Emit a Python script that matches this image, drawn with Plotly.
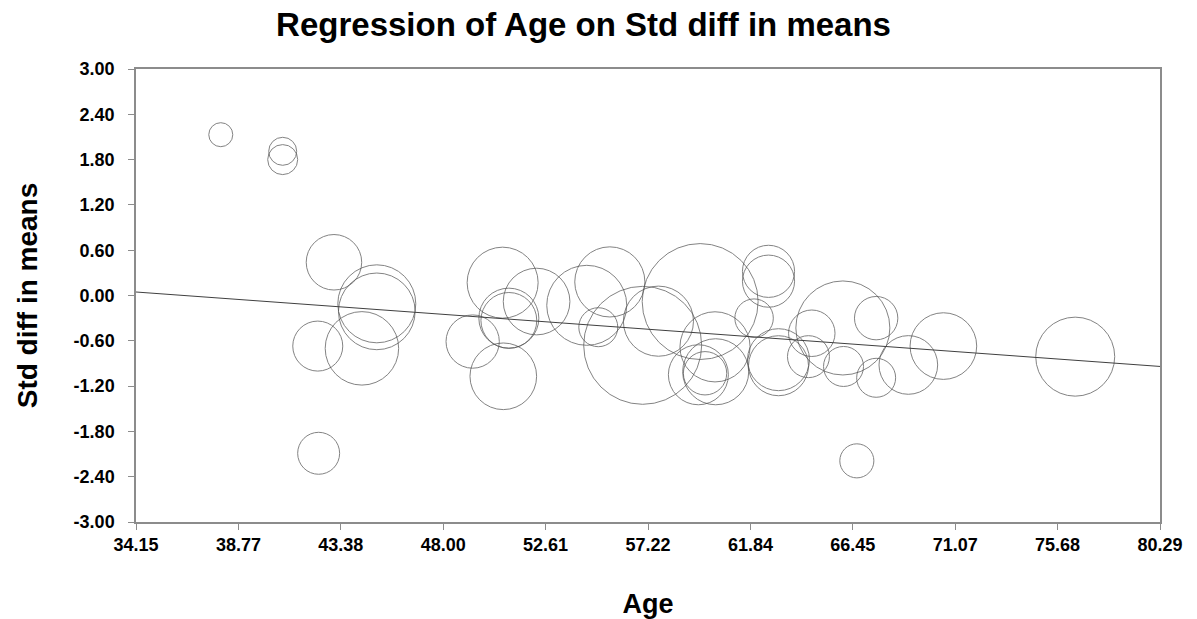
import plotly.graph_objects as go

# Study-level data: mean age, standardized difference in means, relative weight
age = [37.97, 40.76, 40.76, 43.07, 45.00, 45.00, 42.34, 44.33, 42.38, 49.32,
       50.67, 50.70, 50.95, 50.95, 52.20, 55.50, 54.46, 54.98, 56.98, 57.69,
       59.57, 60.24, 59.49, 60.27, 59.79, 62.65, 62.65, 62.00, 63.10, 63.10,
       64.60, 64.45, 66.00, 66.03, 67.50, 67.50, 68.95, 70.53, 76.47, 66.63]
std_diff = [2.13, 1.91, 1.80, 0.44, -0.11, -0.21, -0.67, -0.70, -2.09, -0.61,
            0.17, -1.07, -0.30, -0.33, -0.08, 0.18, -0.13, -0.42, -0.66, -0.34,
            -0.08, -0.68, -1.05, -1.01, -1.03, 0.32, 0.19, -0.30, -0.85, -0.93,
            -0.50, -0.81, -0.43, -0.94, -0.30, -1.09, -0.92, -0.67, -0.81, -2.19]
weight = [1.44, 1.96, 2.25, 7.7, 15.2, 14.7, 6.25, 13.5, 4.4, 7.1,
          12.6, 11.1, 9.0, 7.8, 11.1, 12.3, 16.0, 3.8, 34.8, 12.3,
          33.6, 12.3, 9.0, 10.9, 4.7, 6.8, 6.8, 3.7, 9.6, 9.0,
          5.4, 4.4, 22.1, 4.0, 4.7, 3.8, 8.6, 11.1, 15.6, 2.9]

# Meta-regression fit: std_diff = intercept + slope * age
intercept = 0.776
slope = -0.02137
x_range = [34.15, 80.29]

x_ticks = [34.15, 38.764, 43.378, 47.992, 52.606, 57.22, 61.834, 66.448, 71.062, 75.676, 80.29]
x_tick_text = ["34.15", "38.77", "43.38", "48.00", "52.61", "57.22", "61.84", "66.45", "71.07", "75.68", "80.29"]
y_ticks = [-3.0, -2.4, -1.8, -1.2, -0.6, 0.0, 0.6, 1.2, 1.8, 2.4, 3.0]
y_tick_text = ["-3.00", "-2.40", "-1.80", "-1.20", "-0.60", "0.00", "0.60", "1.20", "1.80", "2.40", "3.00"]

FONT = "Liberation Sans, Arial, sans-serif"

fig = go.Figure()

fig.add_trace(go.Scatter(
    x=age, y=std_diff, mode="markers",
    marker=dict(size=weight, sizemode="area", sizeref=0.005,
                color="rgba(0,0,0,0)",
                line=dict(color="#505050", width=1)),
    hoverinfo="x+y", showlegend=False,
))

fig.add_trace(go.Scatter(
    x=x_range, y=[intercept + slope * v for v in x_range], mode="lines",
    line=dict(color="#404040", width=1), showlegend=False, hoverinfo="skip",
))

fig.update_layout(
    width=1197, height=619,
    margin=dict(l=136, r=37, t=69, b=97),
    paper_bgcolor="white", plot_bgcolor="white",
    font=dict(family=FONT, color="black"),
    title=dict(text="<b>Regression of Age on Std diff in means</b>",
               x=0.4875, xanchor="center", y=0.96, yanchor="middle",
               font=dict(family=FONT, size=33, color="black")),
)

fig.update_xaxes(
    range=x_range, tickmode="array", tickvals=x_ticks, ticktext=x_tick_text,
    showgrid=False, zeroline=False, automargin=False,
    showline=True, linecolor="#8c8c8c", linewidth=1.5, mirror=True,
    ticks="outside", ticklen=6, tickcolor="#8c8c8c",
    tickfont=dict(family=FONT, size=18, color="black", weight="bold"),
    title=dict(text="<b>Age</b>", font=dict(family=FONT, size=27), standoff=41),
)

fig.update_yaxes(
    range=[-3, 3], tickmode="array", tickvals=y_ticks, ticktext=y_tick_text,
    showgrid=False, zeroline=False, automargin=False,
    showline=True, linecolor="#8c8c8c", linewidth=1.5, mirror=True,
    ticks="outside", ticklen=6, tickcolor="#8c8c8c", ticklabelstandoff=10,
    tickfont=dict(family=FONT, size=18, color="black", weight="bold"),
    title=dict(text="<b>Std diff in means</b>", font=dict(family=FONT, size=28), standoff=28),
)

fig.write_html("out.html")
